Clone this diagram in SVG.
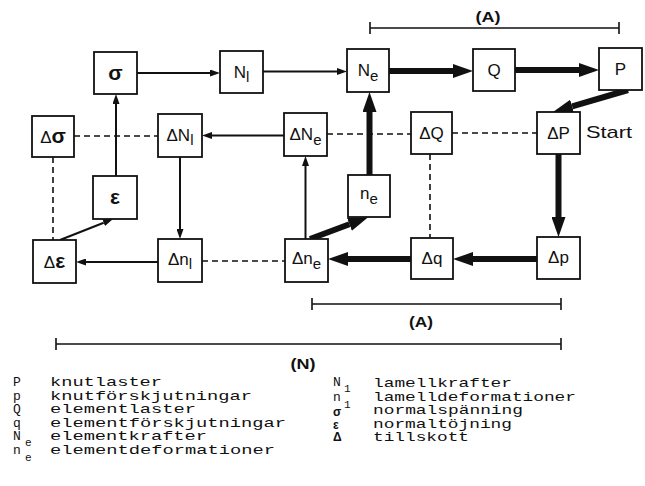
<svg xmlns="http://www.w3.org/2000/svg" width="645" height="486" viewBox="0 0 645 486">
<style>
.box{fill:#fff;stroke:#111;stroke-width:1.8}
.lbl{font-family:"Liberation Sans",Arial,sans-serif;font-size:17px;fill:#111;text-anchor:middle}
.g{font-weight:bold;font-size:21px}
.sub{font-size:15px}
.thin{stroke:#111;stroke-width:2;fill:none}
.thick{stroke:#111;stroke-width:6;fill:none}
.dash{stroke:#111;stroke-width:1.6;stroke-dasharray:6 4;fill:none}
.bar{stroke:#111;stroke-width:1.6;fill:none}
.brk{font-family:"Liberation Sans",Arial,sans-serif;font-size:15px;font-weight:bold;fill:#111;text-anchor:middle}
.mono{font-family:"Liberation Mono","Courier New",monospace;font-size:13px;fill:#111}
.ms{font-family:"Liberation Mono","Courier New",monospace;font-size:11px;fill:#111}
.sym{font-family:"Liberation Sans",Arial,sans-serif;font-size:12px;font-weight:bold;fill:#111}
</style>
<defs>
<marker id="ah" markerUnits="userSpaceOnUse" markerWidth="10" markerHeight="7" refX="0" refY="3.5" orient="auto"><path d="M0,0 L10,3.5 L0,7 z" fill="#111"/></marker>
<marker id="AH" markerUnits="userSpaceOnUse" markerWidth="20" markerHeight="14" refX="0" refY="7" orient="auto"><path d="M0,0 L20,7 L0,14 z" fill="#111"/></marker>
</defs>
<rect width="645" height="486" fill="#fff"/>

<g id="connectors">
<line class="dash" x1="74" y1="136" x2="158" y2="136"/>
<line class="dash" x1="327" y1="134" x2="411" y2="134"/>
<line class="dash" x1="452" y1="133" x2="537" y2="133"/>
<line class="dash" x1="53" y1="157" x2="53" y2="240"/>
<line class="dash" x1="202" y1="261" x2="285" y2="261"/>
<line class="dash" x1="430" y1="154" x2="430" y2="238"/>
<line class="thin" x1="137" y1="73" x2="210" y2="73" marker-end="url(#ah)"/>
<line class="thin" x1="263" y1="71.5" x2="337" y2="71.5" marker-end="url(#ah)"/>
<line class="thin" x1="116" y1="176" x2="116" y2="104" marker-end="url(#ah)"/>
<line class="thin" x1="60" y1="240" x2="103.7" y2="222.7" marker-end="url(#ah)"/>
<line class="thin" x1="158" y1="262" x2="86" y2="262" marker-end="url(#ah)"/>
<line class="thin" x1="180" y1="157" x2="180" y2="229" marker-end="url(#ah)"/>
<line class="thin" x1="284" y1="135.5" x2="212" y2="135.5" marker-end="url(#ah)"/>
<line class="thin" x1="305.5" y1="239" x2="305.5" y2="166" marker-end="url(#ah)"/>
<line class="thick" x1="389" y1="71" x2="453" y2="71" marker-end="url(#AH)"/>
<line class="thick" x1="515" y1="70" x2="579" y2="70" marker-end="url(#AH)"/>
<line class="thick" x1="628" y1="90" x2="572.2" y2="106.4" marker-end="url(#AH)"/>
<line class="thick" x1="558.5" y1="154" x2="558.5" y2="217" marker-end="url(#AH)"/>
<line class="thick" x1="537" y1="259" x2="473" y2="259" marker-end="url(#AH)"/>
<line class="thick" x1="411" y1="259" x2="348" y2="259" marker-end="url(#AH)"/>
<line class="thick" x1="310" y1="239" x2="349.4" y2="224.3" marker-end="url(#AH)"/>
<line class="thick" x1="369.5" y1="175" x2="369.5" y2="112" marker-end="url(#AH)"/>
</g>

<g id="n-sigma"><rect class="box" x="94" y="52" width="43" height="42"/><text class="lbl g" x="115.5" y="80">σ</text></g>
<g id="n-Nl"><rect class="box" x="220" y="51" width="43" height="42"/><text class="lbl" x="241.5" y="78">N<tspan class="sub" dy="4">l</tspan></text></g>
<g id="n-Ne"><rect class="box" x="347" y="49" width="42" height="43"/><text class="lbl" x="368" y="76">N<tspan class="sub" dy="5">e</tspan></text></g>
<g id="n-Q"><rect class="box" x="473" y="49" width="42" height="42"/><text class="lbl" x="494" y="76">Q</text></g>
<g id="n-P"><rect class="box" x="599" y="48" width="43" height="42"/><text class="lbl" x="620.5" y="75">P</text></g>
<g id="n-dsigma"><rect class="box" x="32" y="116" width="42" height="41"/><text class="lbl" x="53" y="143">Δ<tspan class="g">σ</tspan></text></g>
<g id="n-dNl"><rect class="box" x="158" y="114" width="44" height="43"/><text class="lbl" x="180" y="141">ΔN<tspan class="sub" dy="4">l</tspan></text></g>
<g id="n-dNe"><rect class="box" x="284" y="113" width="43" height="43"/><text class="lbl" x="305.5" y="140">ΔN<tspan class="sub" dy="5">e</tspan></text></g>
<g id="n-dQ"><rect class="box" x="411" y="112" width="41" height="42"/><text class="lbl" x="431.5" y="139">ΔQ</text></g>
<g id="n-dP"><rect class="box" x="537" y="112" width="43" height="42"/><text class="lbl" x="558.5" y="139">ΔP</text><text class="lbl" x="586" y="138" style="text-anchor:start" textLength="46" lengthAdjust="spacingAndGlyphs">Start</text></g>
<g id="n-eps"><rect class="box" x="93" y="176" width="44" height="43"/><text class="lbl g" x="115" y="204">ε</text></g>
<g id="n-ne"><rect class="box" x="348" y="175" width="42" height="42"/><text class="lbl" x="369" y="199">n<tspan class="sub" dy="5">e</tspan></text></g>
<g id="n-deps"><rect class="box" x="33" y="240" width="43" height="43"/><text class="lbl" x="54.5" y="268">Δ<tspan class="g">ε</tspan></text></g>
<g id="n-dnl"><rect class="box" x="158" y="239" width="44" height="43"/><text class="lbl" x="180" y="265">Δn<tspan class="sub" dy="4">l</tspan></text></g>
<g id="n-dne"><rect class="box" x="285" y="239" width="43" height="43"/><text class="lbl" x="306.5" y="264">Δn<tspan class="sub" dy="5">e</tspan></text></g>
<g id="n-dq"><rect class="box" x="411" y="238" width="42" height="41"/><text class="lbl" x="432" y="264">Δq</text></g>
<g id="n-dp"><rect class="box" x="537" y="237" width="43" height="42"/><text class="lbl" x="558.5" y="263">Δp</text></g>

<g id="brackets">
<path class="bar" d="M370,28 H619 M370,22 V34 M619,22 V34"/>
<text class="brk" x="488" y="22" textLength="25" lengthAdjust="spacingAndGlyphs">(A)</text>
<path class="bar" d="M312,304 H561 M312,298 V310 M561,298 V310"/>
<text class="brk" x="421" y="327" textLength="24" lengthAdjust="spacingAndGlyphs">(A)</text>
<path class="bar" d="M56,344 H561 M56,338 V350 M561,338 V350"/>
<text class="brk" x="303" y="369" textLength="25" lengthAdjust="spacingAndGlyphs">(N)</text>
</g>

<g id="legend">
<text class="mono" x="13" y="386">P</text><text class="mono" x="50" y="386" textLength="112" lengthAdjust="spacingAndGlyphs">knutlaster</text>
<text class="mono" x="13" y="399.5">p</text><text class="mono" x="50" y="399.5" textLength="202" lengthAdjust="spacingAndGlyphs">knutförskjutningar</text>
<text class="mono" x="13" y="413">Q</text><text class="mono" x="50" y="413" textLength="146" lengthAdjust="spacingAndGlyphs">elementlaster</text>
<text class="mono" x="13" y="426.5">q</text><text class="mono" x="50" y="426.5" textLength="236" lengthAdjust="spacingAndGlyphs">elementförskjutningar</text>
<text class="mono" x="13" y="440">N</text><text class="ms" x="25" y="446">e</text><text class="mono" x="50" y="440" textLength="157" lengthAdjust="spacingAndGlyphs">elementkrafter</text>
<text class="mono" x="13" y="453.5">n</text><text class="ms" x="25" y="461">e</text><text class="mono" x="50" y="453.5" textLength="225" lengthAdjust="spacingAndGlyphs">elementdeformationer</text>

<text class="mono" x="333" y="386">N</text><text class="ms" x="344" y="392">1</text><text class="mono" x="373" y="387" textLength="139" lengthAdjust="spacingAndGlyphs">lamellkrafter</text>
<text class="mono" x="333" y="401">n</text><text class="ms" x="344" y="408">1</text><text class="mono" x="373" y="400.5" textLength="203" lengthAdjust="spacingAndGlyphs">lamelldeformationer</text>
<text class="sym" x="333" y="416">σ</text><text class="mono" x="373" y="414" textLength="150" lengthAdjust="spacingAndGlyphs">normalspänning</text>
<text class="sym" x="333" y="428.5">ε</text><text class="mono" x="373" y="427.5" textLength="139" lengthAdjust="spacingAndGlyphs">normaltöjning</text>
<text class="sym" x="333" y="441">Δ</text><text class="mono" x="373" y="441" textLength="96" lengthAdjust="spacingAndGlyphs">tillskott</text>
</g>
</svg>
